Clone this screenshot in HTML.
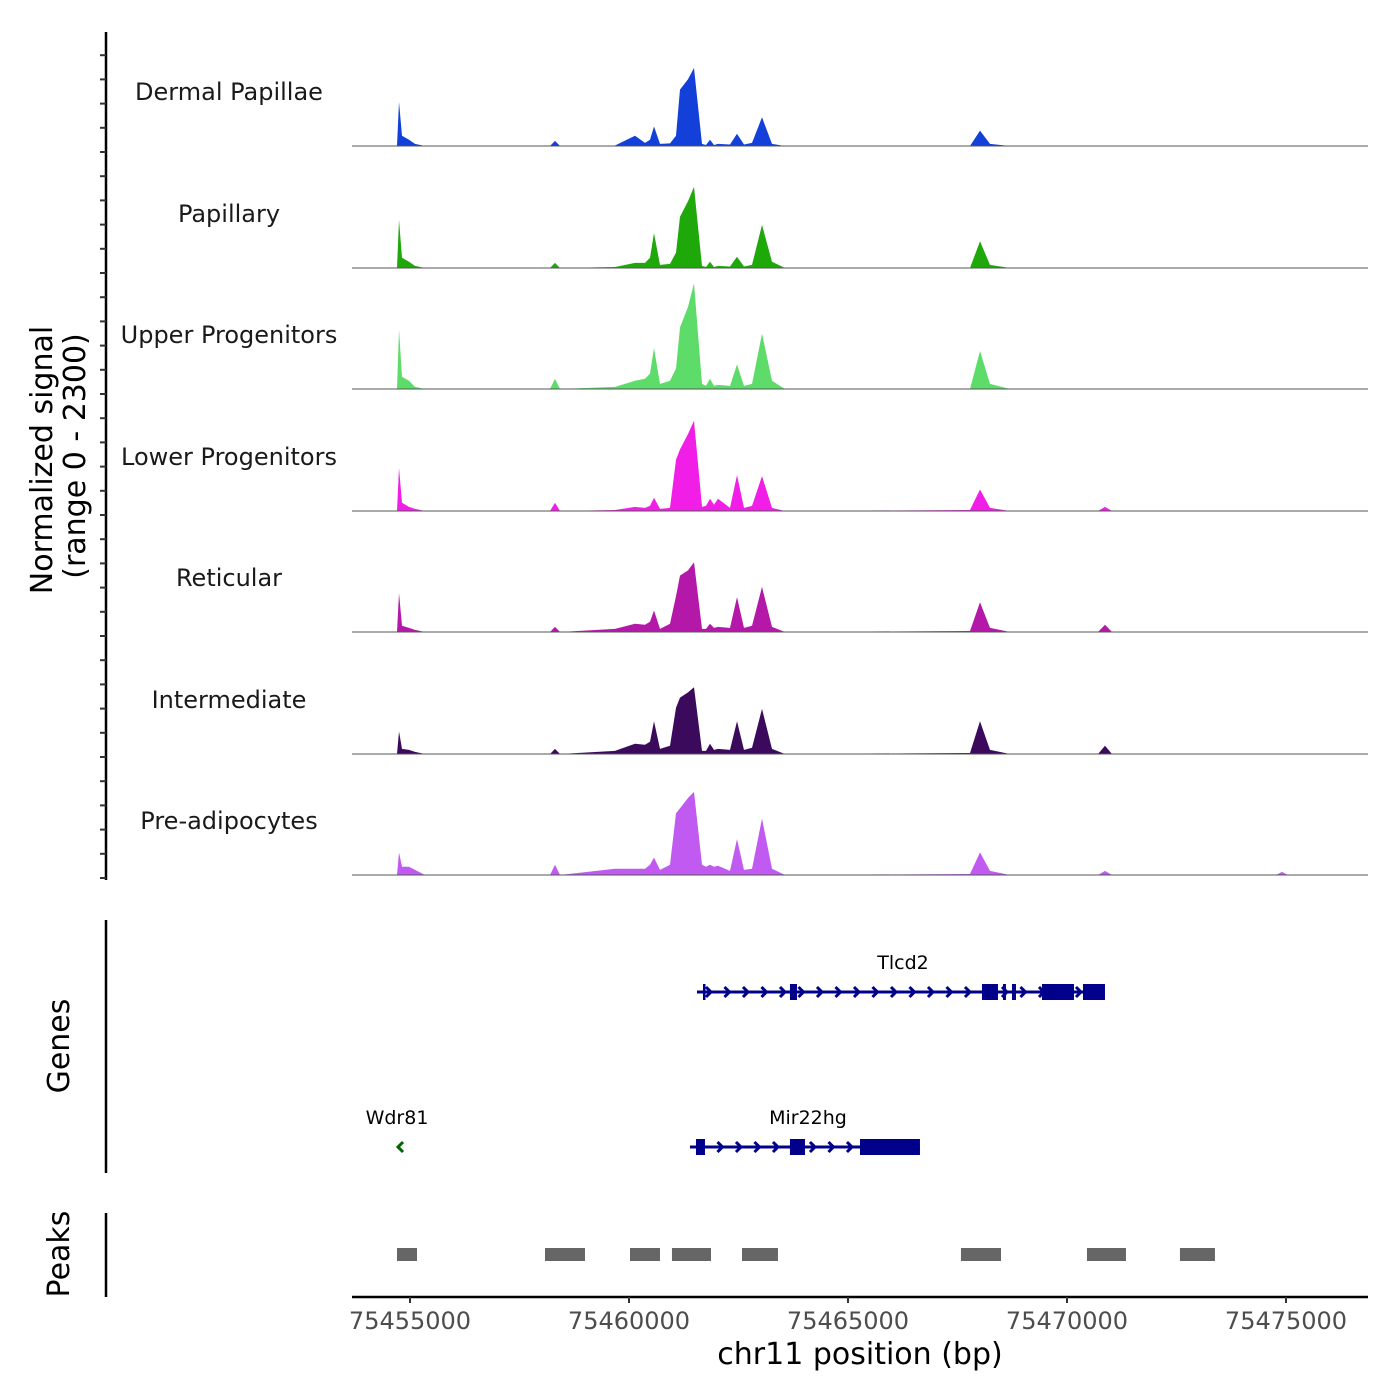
<!DOCTYPE html>
<html><head><meta charset="utf-8"><style>
body{margin:0;background:#fff}
svg{display:block;font-family:"DejaVu Sans","Liberation Sans",sans-serif}
</style></head><body>
<svg id="c" width="1400" height="1400" viewBox="0 0 1400 1400"></svg>
<script>
const positions=[75454703,75454749,75454817,75454977,75455114,75455342,75458196,75458310,75458425,75459680,75460137,75460365,75460479,75460571,75460708,75460936,75461073,75461164,75461347,75461484,75461666,75461758,75461849,75461940,75462032,75462306,75462465,75462625,75462808,75463036,75463264,75463561,75467785,75468013,75468241,75468698,75470707,75470867,75471027,75474771,75474908,75475045];
const trackNames=["Dermal Papillae","Papillary","Upper Progenitors","Lower Progenitors","Reticular","Intermediate","Pre-adipocytes"];
const trackColors=["#1240d8","#1ea80a","#5ddc6a","#f01ee6","#b418a8","#3c0a5c","#c05af0"];
const sigDP=[0,860,200,120,40,0,0,100,0,10,200,60,120,380,40,50,200,1100,1300,1520,40,20,120,20,40,30,240,30,60,560,40,0,0,300,40,0,0,0,0,0,0,0];
const sigPap=[0,940,200,120,40,0,0,100,0,20,100,100,200,680,60,80,300,1000,1300,1580,40,20,120,20,40,30,220,30,60,840,120,0,0,520,60,0,0,0,0,0,0,0];
const sigUP=[0,1160,240,160,40,0,0,200,0,40,160,200,300,800,100,160,400,1200,1600,2060,100,60,200,60,80,60,480,60,100,1080,160,0,0,740,100,0,0,0,0,0,0,0];
const sigLP=[0,840,160,80,40,0,0,160,0,20,80,60,100,260,40,60,1000,1200,1500,1760,80,100,240,120,240,60,700,60,100,680,60,0,20,420,60,0,0,80,0,0,0,0];
const sigRet=[0,760,120,80,40,0,0,100,0,60,160,140,200,420,60,160,700,1100,1200,1360,60,60,160,80,100,80,680,80,120,880,100,0,20,580,80,0,0,140,0,0,0,0];
const sigInt=[0,440,100,80,40,0,0,100,0,60,200,180,240,640,100,160,900,1100,1200,1300,60,60,200,80,100,80,640,80,120,880,100,0,20,640,80,0,0,160,0,0,0,0];
const sigPre=[0,440,160,160,100,0,0,200,0,120,120,120,200,340,100,200,1200,1300,1500,1620,200,160,200,160,180,80,700,100,120,1100,120,0,20,440,80,0,0,80,0,0,60,0];
const signals=[sigDP,sigPap,sigUP,sigLP,sigRet,sigInt,sigPre];
const xTicks=[75455000,75460000,75465000,75470000,75475000];
const peakStarts=[75454703,75458082,75460023,75460981,75462580,75467579,75470456,75472579];
const peakEnds=[75455160,75458995,75460708,75461872,75463401,75468493,75471346,75473378];
const tlcd2Span=[75461552,75470867];
const tlcd2ExStart=[75461689,75463675,75468059,75468538,75468744,75469429,75470365];
const tlcd2ExEnd=[75461735,75463835,75468424,75468607,75468835,75470159,75470867];
const mirSpan=[75461392,75466643];
const mirExStart=[75461529,75463675,75465274];
const mirExEnd=[75461735,75464018,75466643];
const wdr81Pos=75454772;

const NS="http://www.w3.org/2000/svg";
const svg=document.getElementById('c');
const X=bp=>410+(bp-75455000)*0.0438;
const baselines=[146,268,389,511,632,754,875];
const Y=(v,i)=>baselines[i]-v/2300*118;
function mk(tag,attrs,parent){const e=document.createElementNS(NS,tag);for(const k in attrs)e.setAttribute(k,attrs[k]);(parent||svg).appendChild(e);return e;}
function txt(s,attrs,parent){const t=mk('text',attrs,parent);t.textContent=s;return t;}

let ax=mk('line',{x1:106,y1:32,x2:106,y2:880,stroke:'#000','stroke-width':2.5});


for(let y=878;y>=32;y-=24.2){const t=mk('line',{x1:100,y1:y,x2:106,y2:y,stroke:'#333','stroke-width':2});

}
let yt=txt('Normalized signal',{x:0,y:0,'font-size':30,'text-anchor':'middle',transform:'translate(52,460) rotate(-90)'});


let yt2=txt('(range 0 - 2300)',{x:0,y:0,'font-size':30,'text-anchor':'middle',transform:'translate(85,456) rotate(-90)'});



signals.forEach((s,i)=>{
  let d='M'+X(positions[0])+','+baselines[i];
  s.forEach((v,j)=>{d+=' L'+X(positions[j]).toFixed(1)+','+Y(v,i).toFixed(1);});
  d+=' L'+X(positions[positions.length-1])+','+baselines[i]+'Z';
  const p=mk('path',{d:d,fill:trackColors[i]});
  
  
  const b=mk('line',{x1:352,y1:baselines[i],x2:1368,y2:baselines[i],stroke:'#555','stroke-width':1});
  
  
  const l=txt(trackNames[i],{x:229,y:baselines[i]-46,'font-size':24,'text-anchor':'middle',fill:'#1a1a1a'});
  
  
});

let ga=mk('line',{x1:106,y1:920,x2:106,y2:1173,stroke:'#000','stroke-width':2.5});


let gt=txt('Genes',{x:0,y:0,'font-size':30,'text-anchor':'middle',transform:'translate(69,1046) rotate(-90)'});


function gene(name,span,es,ee,y,lx){
  const g=mk('g',{});
  
  
  mk('line',{x1:X(span[0]),y1:y,x2:X(span[1]),y2:y,stroke:'#00008b','stroke-width':3},g);
  for(let x=X(span[0])+12;x<X(span[1])-6;x+=18.5){mk('path',{d:`M${x-3},${y-5} L${x+2},${y} L${x-3},${y+5}`,stroke:'#00008b','stroke-width':3,fill:'none'},g);}
  es.forEach((s,k)=>{const w=Math.max(X(ee[k])-X(s),2.5);mk('rect',{x:X(s),y:y-8,width:w,height:16,fill:'#00008b'},g);});
  txt(name,{x:lx,y:y-23,'font-size':19,'text-anchor':'middle',fill:'#000'},g);
}
gene('Tlcd2',tlcd2Span,tlcd2ExStart,tlcd2ExEnd,992,903);
gene('Mir22hg',mirSpan,mirExStart,mirExEnd,1147,808);
let w=mk('path',{d:`M${X(wdr81Pos)+3},${1142} L${X(wdr81Pos)-2},${1147} L${X(wdr81Pos)+3},${1152}`,stroke:'#006400','stroke-width':3,fill:'none'});


let wl=txt('Wdr81',{x:397,y:1124,'font-size':19,'text-anchor':'middle'});



let pa=mk('line',{x1:106,y1:1213,x2:106,y2:1297,stroke:'#000','stroke-width':2.5});


let pt=txt('Peaks',{x:0,y:0,'font-size':30,'text-anchor':'middle',transform:'translate(69,1254) rotate(-90)'});


peakStarts.forEach((s,k)=>{const r=mk('rect',{x:X(s),y:1248,width:X(peakEnds[k])-X(s),height:13,fill:'#666'});

});

let xa=mk('line',{x1:352,y1:1297,x2:1368,y2:1297,stroke:'#000','stroke-width':2.5});


xTicks.forEach(t=>{mk('line',{x1:X(t),y1:1297,x2:X(t),y2:1303,stroke:'#333','stroke-width':2});
const l=txt(String(t),{x:X(t),y:1329,'font-size':24,'text-anchor':'middle',fill:'#4d4d4d'});

});
let xt=txt('chr11 position (bp)',{x:860,y:1364,'font-size':30,'text-anchor':'middle'});


</script>
</body></html>
